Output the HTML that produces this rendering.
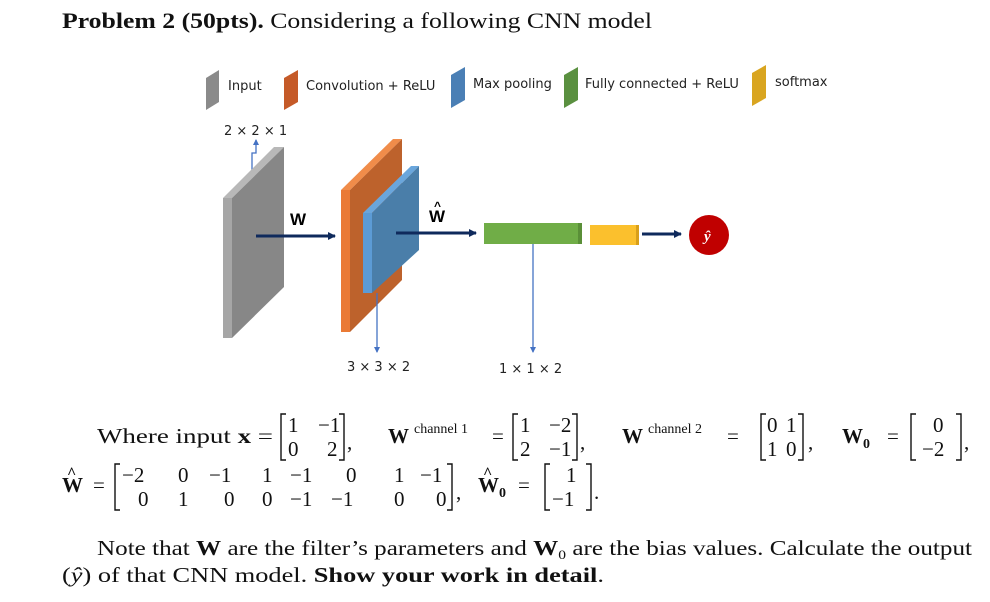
<!DOCTYPE html>
<html><head><meta charset="utf-8"><style>
html,body{margin:0;padding:0;background:#fff;}
svg{display:block;}
.s{font-family:"Liberation Serif",serif;fill:#111;}
.a{font-family:"DejaVu Sans","Liberation Sans",sans-serif;fill:#222;font-size:13px;}
</style></head><body>
<svg width="990" height="602" viewBox="0 0 990 602" xmlns="http://www.w3.org/2000/svg">
<defs>
<marker id="ah" markerWidth="8" markerHeight="8" refX="7" refY="4" orient="auto" markerUnits="userSpaceOnUse"><path d="M0,0 L8,4 L0,8 Z" fill="#0f2a5c"/></marker>
<marker id="bh" markerWidth="6" markerHeight="6" refX="5" refY="3" orient="auto" markerUnits="userSpaceOnUse"><path d="M0,0 L6,3 L0,6 Z" fill="#4472c4"/></marker>
</defs>
<text class="s" x="62" y="28" font-size="22" textLength="590" lengthAdjust="spacingAndGlyphs"><tspan font-weight="bold">Problem 2 (50pts).</tspan> Considering a following CNN model</text>

<!-- legend -->
<polygon points="206,78 219,70 219,102 206,110" fill="#8a8a8a"/>
<text class="a" x="228" y="90">Input</text>
<polygon points="284,78 298,70 298,102 284,110" fill="#c55a28"/>
<text class="a" x="306" y="90">Convolution + ReLU</text>
<polygon points="451,75 465,67 465,100 451,108" fill="#4a7fb5"/>
<text class="a" x="473" y="88">Max pooling</text>
<polygon points="564,75 578,67 578,100 564,108" fill="#5a9040"/>
<text class="a" x="585" y="88">Fully connected + ReLU</text>
<polygon points="752,73 766,65 766,98 752,106" fill="#d9a520"/>
<text class="a" x="775" y="86">softmax</text>

<text class="a" x="224" y="135">2 × 2 × 1</text>
<polyline points="252,170 252,153 256,153 256,140" fill="none" stroke="#4472c4" stroke-width="1.3" marker-end="url(#bh)"/>

<polygon points="223,198 274,147 284,147 232,198" fill="#b8b8b8"/>
<polygon points="223,198 232,198 232,338 223,338" fill="#a6a6a6"/>
<polygon points="232,198 284,147 284,287 232,338" fill="#878787"/>

<polygon points="341,190 393,139 402,139 350,190" fill="#f08c4a"/>
<polygon points="341,190 350,190 350,332 341,332" fill="#ea7a35"/>
<polygon points="350,190 402,139 402,280 350,332" fill="#bd622c"/>
<polygon points="363,213 411,166 419,166 372,213" fill="#6aa6dc"/>
<polygon points="363,213 372,213 372,293 363,293" fill="#5c9bd5"/>
<polygon points="372,213 419,166 419,250 372,293" fill="#4a7ea9"/>

<line x1="256" y1="236" x2="335" y2="236" stroke="#0f2a5c" stroke-width="3" marker-end="url(#ah)"/>
<text x="290" y="225" font-family="'Liberation Sans',sans-serif" font-weight="bold" font-size="17" fill="#000">W</text>
<line x1="396" y1="233" x2="476" y2="233" stroke="#0f2a5c" stroke-width="3" marker-end="url(#ah)"/>
<text x="429" y="222" font-family="'Liberation Sans',sans-serif" font-weight="bold" font-size="17" fill="#000">W</text>
<text x="434" y="210" font-family="'Liberation Sans',sans-serif" font-weight="bold" font-size="12" fill="#000">^</text>

<line x1="377" y1="293" x2="377" y2="352" stroke="#4472c4" stroke-width="1.3" marker-end="url(#bh)"/>
<text class="a" x="347" y="371">3 × 3 × 2</text>

<rect x="484" y="223" width="96" height="21" fill="#70ad47"/>
<rect x="578" y="223" width="4" height="21" fill="#5a8f38"/>
<line x1="533" y1="244" x2="533" y2="352" stroke="#4472c4" stroke-width="1.3" marker-end="url(#bh)"/>
<text class="a" x="499" y="373">1 × 1 × 2</text>

<rect x="590" y="225" width="47" height="20" fill="#fbc02d"/>
<rect x="636" y="225" width="3" height="20" fill="#d89f1a"/>
<line x1="642" y1="234" x2="681" y2="234" stroke="#0f2a5c" stroke-width="3" marker-end="url(#ah)"/>
<circle cx="709" cy="235" r="20" fill="#c00000"/>
<text x="704" y="241" font-family="'Liberation Serif',serif" font-weight="bold" font-style="italic" font-size="15" fill="#fff">ŷ</text>

<g class="s" font-size="21">
<text x="97" y="443" textLength="176" lengthAdjust="spacingAndGlyphs">Where input <tspan font-weight="bold">x</tspan> =</text>
<path d="M286,414 h-5 v46 h5 M339,414 h5 v46 h-5" fill="none" stroke="#111" stroke-width="1.4"/>
<text x="288" y="432">1</text><text x="318" y="432">−1</text>
<text x="288" y="456">0</text><text x="327" y="456">2</text>
<text x="347" y="449">,</text>
<text x="388" y="443" font-weight="bold">W</text><text x="414" y="433" font-size="14">channel 1</text>
<text x="492" y="443">=</text>
<path d="M518,414 h-5 v46 h5 M572,414 h5 v46 h-5" fill="none" stroke="#111" stroke-width="1.4"/>
<text x="520" y="432">1</text><text x="549" y="432">−2</text>
<text x="520" y="456">2</text><text x="549" y="456">−1</text>
<text x="580" y="449">,</text>
<text x="622" y="443" font-weight="bold">W</text><text x="648" y="433" font-size="14">channel 2</text>
<text x="727" y="443">=</text>
<path d="M766,414 h-5 v46 h5 M798,414 h5 v46 h-5" fill="none" stroke="#111" stroke-width="1.4"/>
<text x="767" y="432">0</text><text x="786" y="432">1</text>
<text x="767" y="456">1</text><text x="786" y="456">0</text>
<text x="808" y="449">,</text>
<text x="842" y="443" font-weight="bold">W</text><text x="863" y="448" font-size="14" font-weight="bold">0</text>
<text x="887" y="443">=</text>
<path d="M916,414 h-5 v46 h5 M956,414 h5 v46 h-5" fill="none" stroke="#111" stroke-width="1.4"/>
<text x="933" y="432">0</text><text x="922" y="456">−2</text>
<text x="964" y="449">,</text>

<text x="62" y="492" font-weight="bold">W</text>
<text x="67" y="478" font-weight="bold" font-size="16">^</text>
<text x="93" y="492">=</text>
<path d="M120,464 h-5 v46 h5 M447,464 h5 v46 h-5" fill="none" stroke="#111" stroke-width="1.4"/>
<text x="122" y="482">−2</text><text x="178" y="482">0</text><text x="209" y="482">−1</text><text x="262" y="482">1</text><text x="290" y="482">−1</text><text x="346" y="482">0</text><text x="394" y="482">1</text><text x="420" y="482">−1</text>
<text x="138" y="506">0</text><text x="178" y="506">1</text><text x="224" y="506">0</text><text x="262" y="506">0</text><text x="290" y="506">−1</text><text x="331" y="506">−1</text><text x="394" y="506">0</text><text x="436" y="506">0</text>
<text x="456" y="499">,</text>
<text x="478" y="492" font-weight="bold">W</text>
<text x="483" y="478" font-weight="bold" font-size="16">^</text>
<text x="499" y="497" font-size="14" font-weight="bold">0</text>
<text x="518" y="492">=</text>
<path d="M550,464 h-5 v46 h5 M586,464 h5 v46 h-5" fill="none" stroke="#111" stroke-width="1.4"/>
<text x="566" y="482">1</text><text x="552" y="506">−1</text>
<text x="594" y="499">.</text>

<text x="97" y="555" textLength="875" lengthAdjust="spacingAndGlyphs">Note that <tspan font-weight="bold">W</tspan> are the filter’s parameters and <tspan font-weight="bold">W</tspan><tspan font-size="13" dy="4">0</tspan><tspan dy="-4"> are the bias values. Calculate the output</tspan></text>
<text x="62" y="582" textLength="542" lengthAdjust="spacingAndGlyphs">(<tspan font-style="italic">ŷ</tspan>) of that CNN model. <tspan font-weight="bold">Show your work in detail</tspan>.</text>
</g>
</svg>
</body></html>
